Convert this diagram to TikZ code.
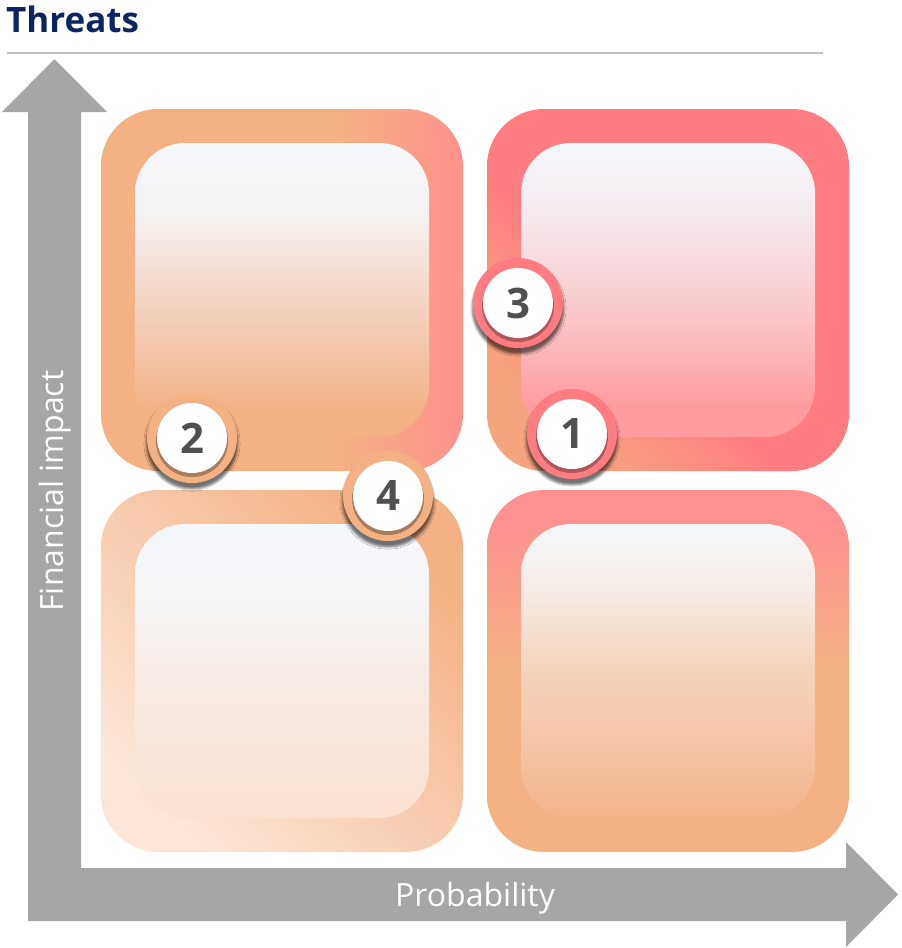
\documentclass[tikz,border=0pt]{standalone}
\usepackage{fontspec}
\setmainfont{Open Sans}
\usetikzlibrary{shadows.blur}

\definecolor{navy}{HTML}{0C2461}
\definecolor{rulegray}{HTML}{BFBFBF}
\definecolor{axisgray}{HTML}{A6A6A6}
\definecolor{digit}{HTML}{505050}
\definecolor{peach}{HTML}{F4B183}
\definecolor{lightpeach}{HTML}{FBE6D8}
\definecolor{midpeach}{HTML}{F8CBAD}
\definecolor{salmon}{HTML}{FF7C80}
\definecolor{coral}{HTML}{F5A57E}
\definecolor{tlpink}{HTML}{FF928C}
\definecolor{brpink}{HTML}{FF9190}
\definecolor{snow}{HTML}{F5F8FC}

% ring shadings
\pgfdeclarehorizontalshading{tlring}{100bp}{color(0bp)=(peach); color(25bp)=(peach); color(58bp)=(peach); color(75bp)=(tlpink); color(100bp)=(tlpink)}
\pgfdeclarehorizontalshading{trring}{100bp}{color(0bp)=(coral); color(25bp)=(coral); color(44bp)=(salmon); color(100bp)=(salmon)}
\pgfdeclarehorizontalshading{blring}{100bp}{color(0bp)=(lightpeach); color(25bp)=(lightpeach); color(50bp)=(midpeach); color(75bp)=(peach); color(100bp)=(peach)}
\pgfdeclareverticalshading{brring}{100bp}{color(0bp)=(peach); color(51bp)=(peach); color(71bp)=(brpink); color(100bp)=(brpink)}
% pad shadings
\pgfdeclareverticalshading{tlpad}{100bp}{color(0bp)=(peach); color(29bp)=(peach); color(50bp)=(rgb,255:red,244;green,216;blue,202); color(63bp)=(rgb,255:red,245;green,242;blue,242); color(75bp)=(snow); color(100bp)=(snow)}
\pgfdeclareverticalshading{trpad}{100bp}{color(0bp)=(rgb,255:red,255;green,154;blue,158); color(30bp)=(rgb,255:red,254;green,156;blue,160); color(48bp)=(rgb,255:red,249;green,204;blue,207); color(63bp)=(rgb,255:red,245;green,234;blue,238); color(75bp)=(snow); color(100bp)=(snow)}
\pgfdeclareverticalshading{blpad}{100bp}{color(0bp)=(rgb,255:red,250;green,226;blue,211); color(25bp)=(rgb,255:red,250;green,226;blue,211); color(50bp)=(rgb,255:red,247;green,235;blue,229); color(62bp)=(rgb,255:red,245;green,245;blue,246); color(75bp)=(snow); color(100bp)=(snow)}
\pgfdeclareverticalshading{brpad}{100bp}{color(0bp)=(rgb,255:red,244;green,180;blue,138); color(25bp)=(rgb,255:red,244;green,180;blue,138); color(50bp)=(rgb,255:red,245;green,211;blue,189); color(64bp)=(rgb,255:red,245;green,236;blue,230); color(75bp)=(snow); color(100bp)=(snow)}

\begin{document}
\begin{tikzpicture}[x=1pt,y=-1pt,
    ring/.style={rectangle, shade, minimum size=362pt, rounded corners=57pt, inner sep=0pt},
    pad/.style={rectangle, shade, minimum size=294pt, rounded corners=50pt, inner sep=0pt},
    badge/.style={circle, fill=#1, minimum size=90pt, inner sep=0pt, text=digit,
        font=\fontsize{42}{42}\selectfont\bfseries,
        blur shadow={shadow xshift=0pt, shadow yshift=-5pt, shadow scale=1.02, shadow opacity=55},
        path picture={
            \fill[black, opacity=.3] ([yshift=-3pt]path picture bounding box.center) circle (36pt);
            \fill[white] (path picture bounding box.center) circle (35pt);}},
    axis label/.style={text=white, font=\fontsize{32}{32}\selectfont, inner sep=0pt}]
    \useasboundingbox (0,0) rectangle (902,948);

    % title
    \node[anchor=base west, inner sep=0pt, text=navy, font=\fontsize{35}{35}\selectfont\bfseries] (title) at (6,32) {Threats};
    \draw[rulegray, line width=1.5pt] (7,53) -- (823,53);

    % axes
    \fill[axisgray] (28,921) -- (28,112) -- (2,112) -- (54.5,59) -- (107,112) -- (81,112) -- (81,868)
        -- (846,868) -- (846,842) -- (898,894.5) -- (846,947) -- (846,921) -- cycle;
    \node[axis label, rotate=90, anchor=base] (ylab) at (63,491) {Financial impact};
    \node[axis label, anchor=base] (xlab) at (475,906) {Probability};

    % quadrants
    \node[ring, shading=tlring] (tl) at (282,290) {};
    \node[pad, shading=tlpad] (tlin) at (tl) {};
    \node[ring, shading=trring, shading angle=45] (tr) at (668,290) {};
    \node[pad, shading=trpad] (trin) at (tr) {};
    \node[ring, shading=blring, shading angle=45] (bl) at (282,671) {};
    \node[pad, shading=blpad] (blin) at (bl) {};
    \node[ring, shading=brring] (br) at (668,671) {};
    \node[pad, shading=brpad] (brin) at (br) {};

    % threats
    \node[badge=peach] (t2) at (192,438) {2};
    \node[badge=peach] (t4) at (388,496) {4};
    \node[badge=salmon] (t3) at (518,303) {3};
    \node[badge=salmon] (t1) at (572,434) {1};
\end{tikzpicture}
\end{document}
